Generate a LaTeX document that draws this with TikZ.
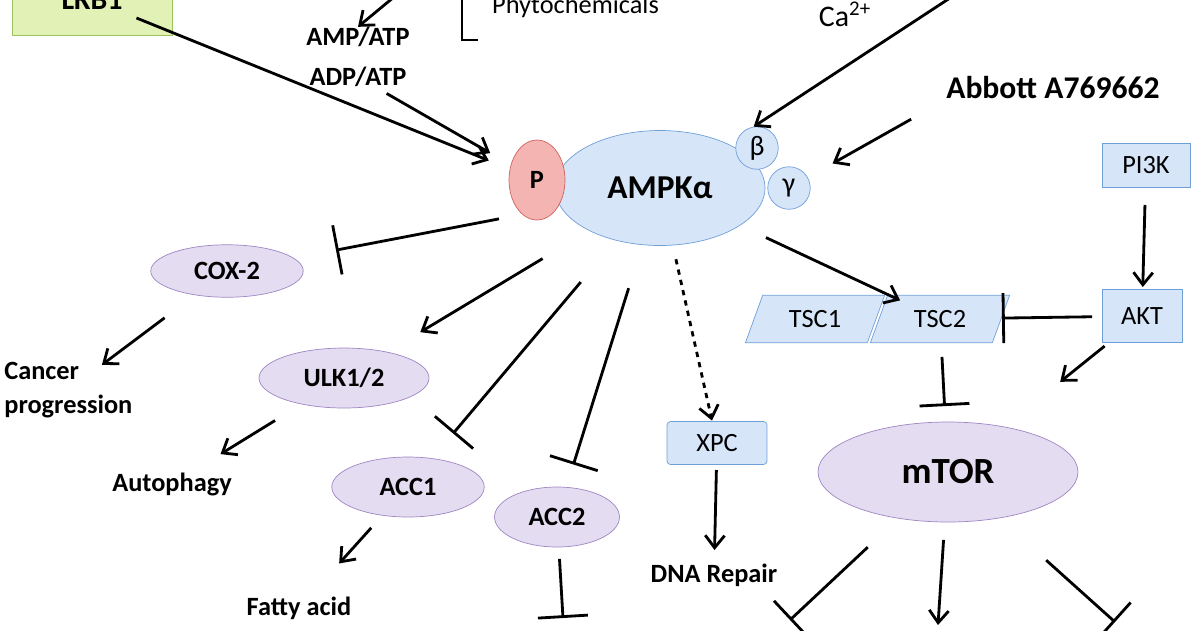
\documentclass[tikz,border=0pt]{standalone}
\usepackage{fontspec}
\setmainfont{Carlito}
\usetikzlibrary{arrows.meta,shapes.geometric}

\definecolor{blueFill}{HTML}{D6E5F8}
\definecolor{blueLine}{HTML}{6F9FD8}
\definecolor{violetFill}{HTML}{E4DCF0}
\definecolor{violetLine}{HTML}{9F86C4}
\definecolor{redFill}{HTML}{F4B4B2}
\definecolor{redLine}{HTML}{D0625E}
\definecolor{greenFill}{HTML}{E2F1B6}
\definecolor{greenLine}{HTML}{9DC25A}

\tikzset{
  act/.style={line width=1.6pt,-{Straight Barb[length=7pt,width=11pt]}},
  inh/.style={line width=1.6pt,-{Bar[width=1cm,line width=1.6pt]}},
  prot/.style={ellipse,draw=violetLine,fill=violetFill,font=\bfseries\fontsize{15}{17}\selectfont},
  box/.style={rectangle,rounded corners=2pt,draw=blueLine,fill=blueFill,font=\fontsize{15}{17}\selectfont},
  para/.style={trapezium,trapezium left angle=70,trapezium right angle=110,draw=blueLine,fill=blueFill,
    minimum height=0.95cm,minimum width=2.1cm,font=\fontsize{15}{17}\selectfont},
  lbl/.style={font=\bfseries\fontsize{15}{17}\selectfont,inner sep=0pt}
}

\begin{document}
\begin{tikzpicture}[x=0.02cm,y=-0.02cm]
  \useasboundingbox (0,0) rectangle (1200,630);
  \clip (0,0) rectangle (1200,630);

  % upstream signals
  \node[draw=greenLine,fill=greenFill,minimum width=3.2cm,minimum height=1.4cm,
        font=\bfseries\fontsize{17}{19}\selectfont] (lkb) at (92,0) {LKB1};
  \node[lbl] (amp) at (358,37) {AMP/ATP};
  \node[lbl] (adp) at (358,77) {ADP/ATP};
  \coordinate (ampSrc) at (400,-8);
  \draw[line width=1.2pt] (462,-5) -- (462,40) -- (478,40);
  \node[anchor=west,font=\fontsize{15}{17}\selectfont] (phyto) at (486,6) {Phytochemicals};
  \node[font=\fontsize{17}{19}\selectfont] (ca) at (845,14) {Ca\textsuperscript{2+}};
  \coordinate (caSrc) at (950,-2);
  \node[lbl,font=\bfseries\fontsize{18}{20}\selectfont] (abbott) at (1053,88) {Abbott A769662};

  % AMPK complex
  \node[ellipse,draw=blueLine,fill=blueFill,minimum width=4.2cm,minimum height=2.3cm,
        font=\bfseries\fontsize{19}{21}\selectfont] (ampk) at (660,188) {AMPKα};
  \node[ellipse,draw=redLine,fill=redFill,minimum width=1.12cm,minimum height=1.6cm,
        font=\bfseries\fontsize{15}{17}\selectfont] (p) at (537,180) {P};
  \node[circle,draw=blueLine,fill=blueFill,minimum size=0.85cm,inner sep=0pt,
        font=\fontsize{16}{17}\selectfont] (beta) at (757,148) {β};
  \node[circle,draw=blueLine,fill=blueFill,minimum size=0.85cm,inner sep=0pt,
        font=\fontsize{16}{17}\selectfont] (gamma) at (789,188) {γ};

  % targets
  \node[prot,minimum width=3.05cm,minimum height=1.05cm] (cox) at (227,271) {COX-2};
  \node[prot,minimum width=3.4cm,minimum height=1.2cm] (ulk) at (344,378) {ULK1/2};
  \node[prot,minimum width=3.05cm,minimum height=1.2cm] (acc1) at (408,487) {ACC1};
  \node[prot,minimum width=2.5cm,minimum height=1.2cm] (acc2) at (557,517) {ACC2};
  \node[box,minimum width=2cm,minimum height=0.86cm] (xpc) at (717,443) {XPC};
  \node[box,rounded corners=0pt,minimum width=1.76cm,minimum height=0.88cm] (pi3k) at (1146,165) {PI3K};
  \node[box,rounded corners=0pt,minimum width=1.6cm,minimum height=1.06cm] (akt) at (1142,316) {AKT};
  \node[para] (tsc1) at (815,319) {TSC1};
  \node[para] (tsc2) at (940,319) {TSC2};
  \node[prot,minimum width=5.2cm,minimum height=2cm,
        font=\bfseries\fontsize{21}{23}\selectfont] (mtor) at (948,472) {mTOR};

  % outcomes
  \node[lbl,align=left,anchor=west] (cancer) at (4,390) {Cancer\\[2pt]progression};
  \node[lbl] (autoph) at (172,484) {Autophagy};
  \node[lbl] (fatty) at (299,608) {Fatty acid};
  \node[lbl] (dna) at (714,575) {DNA Repair};
  \coordinate (acc2Out) at (563,618);
  \coordinate (mOut1) at (790,620);
  \coordinate (mOut2) at (938,625);
  \coordinate (mOut3) at (1115,622);

  % inputs to AMPK
  \draw[act,shorten <=0.96cm,shorten >=1.04cm] (lkb.center) -- (p.center);
  \draw[act,shorten <=0.66cm,shorten >=1.08cm] (adp.center) -- (p.center);
  \draw[act] (ampSrc) -- (amp.north);
  \draw[act,shorten >=2.24cm] (caSrc) -- (ampk.center);
  \draw[act,shorten <=0.8cm,shorten >=1cm] (abbott.south west) -- (gamma.center);

  % AMPK outputs
  \draw[inh,shorten <=3.28cm,shorten >=2.22cm] (ampk.center) -- (cox.center);
  \draw[act,shorten <=2.74cm,shorten >=1.78cm] (ampk.center) -- (ulk.center);
  \draw[inh,shorten <=2.46cm,shorten >=1.4cm] (ampk.center) -- (acc1.center);
  \draw[inh,shorten <=2.1cm,shorten >=1.1cm] (ampk.center) -- (acc2.center);
  \draw[act,dashed,shorten <=1.46cm,shorten >=0.46cm] (ampk.center) -- (xpc.center);
  \draw[act,shorten <=2.34cm,shorten >=0.88cm] (ampk.center) -- (tsc2.center);

  % downstream effects
  \draw[act,shorten <=1.56cm,shorten >=0.84cm] (cox.center) -- (cancer.center);
  \draw[act,shorten <=1.62cm,shorten >=1.14cm] (ulk.center) -- (autoph.center);
  \draw[act,shorten <=1.1cm,shorten >=1.2cm] (acc1.center) -- (fatty.center);
  \draw[inh,shorten <=0.84cm] (acc2.center) -- (acc2Out);
  \draw[act,shorten <=0.54cm,shorten >=0.5cm] (xpc.center) -- (dna.center);

  % PI3K / AKT / TSC / mTOR
  \draw[act,shorten <=0.8cm,shorten >=0.58cm] (pi3k.center) -- (akt.center);
  \draw[inh,shorten <=1cm,shorten >=1.24cm] (akt.center) -- (tsc2.center);
  \draw[inh,shorten <=0.76cm,shorten >=1.32cm] (tsc2.center) -- (mtor.center);
  \draw[act,shorten <=0.96cm,shorten >=2.88cm] (akt.center) -- (mtor.center);
  \draw[inh,shorten <=2.2cm] (mtor.center) -- (mOut1);
  \draw[act,shorten <=1.36cm] (mtor.center) -- (mOut2);
  \draw[inh,shorten <=2.64cm] (mtor.center) -- (mOut3);

\end{tikzpicture}
\end{document}
